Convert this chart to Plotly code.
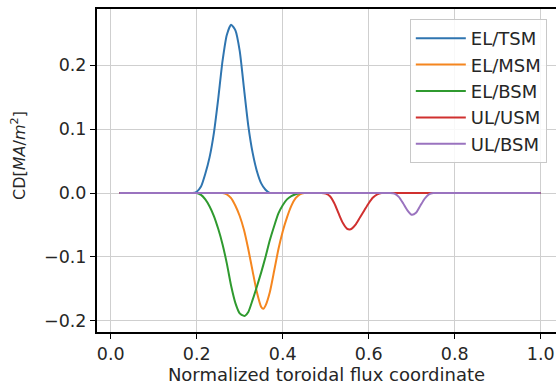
import plotly.graph_objects as go

# ---- data ----
x_tsm = [0.02, 0.18, 0.19, 0.20, 0.21, 0.22, 0.23, 0.24, 0.25, 0.26, 0.27, 0.28, 0.29, 0.30,
         0.31, 0.32, 0.33, 0.34, 0.35, 0.36, 0.37, 0.38, 1.0]
y_tsm = [0.0, 0.0, 0.0, 0.002, 0.010, 0.030, 0.056, 0.094, 0.147, 0.206, 0.247, 0.263, 0.254, 0.222,
         0.163, 0.105, 0.063, 0.034, 0.015, 0.005, 0.0, 0.0, 0.0]

x_msm = [0.02, 0.25, 0.26, 0.27, 0.28, 0.29, 0.30, 0.31, 0.32, 0.33, 0.34, 0.35, 0.355, 0.36,
         0.37, 0.38, 0.39, 0.40, 0.41, 0.42, 0.43, 0.44, 0.45, 0.46, 1.0]
y_msm = [0.0, 0.0, 0.0, -0.002, -0.008, -0.020, -0.036, -0.058, -0.088, -0.122, -0.155, -0.178, -0.181, -0.176,
         -0.155, -0.122, -0.088, -0.060, -0.038, -0.020, -0.008, -0.002, 0.0, 0.0, 0.0]

x_bsm = [0.02, 0.18, 0.19, 0.20, 0.21, 0.22, 0.23, 0.24, 0.25, 0.26, 0.27, 0.28, 0.29, 0.30, 0.31, 0.312,
         0.32, 0.33, 0.34, 0.35, 0.36, 0.37, 0.38, 0.39, 0.40, 0.41, 0.42, 0.43, 0.44, 0.45, 1.0]
y_bsm = [0.0, 0.0, 0.0, 0.0, -0.003, -0.010, -0.021, -0.036, -0.056, -0.080, -0.110, -0.145, -0.172, -0.188, -0.192, -0.192,
         -0.186, -0.167, -0.146, -0.124, -0.100, -0.074, -0.052, -0.032, -0.019, -0.010, -0.005, -0.002, 0.0, 0.0, 0.0]

x_usm = [0.02, 0.48, 0.49, 0.50, 0.51, 0.52, 0.53, 0.54, 0.55, 0.556, 0.56, 0.57, 0.58, 0.59, 0.60,
         0.61, 0.62, 0.63, 0.64, 1.0]
y_usm = [0.0, 0.0, 0.0, -0.001, -0.005, -0.016, -0.032, -0.047, -0.056, -0.057, -0.056, -0.049, -0.038, -0.027, -0.016,
         -0.007, -0.002, 0.0, 0.0, 0.0]

x_ubsm = [0.02, 0.64, 0.65, 0.66, 0.67, 0.68, 0.69, 0.70, 0.71, 0.72, 0.73, 0.74, 0.75, 0.76, 1.0]
y_ubsm = [0.0, 0.0, 0.0, -0.001, -0.006, -0.016, -0.027, -0.034, -0.031, -0.020, -0.009, -0.002, 0.0, 0.0, 0.0]

names = ["EL/TSM", "EL/MSM", "EL/BSM", "UL/USM", "UL/BSM"]
colors = ["#2f75b0", "#f5861f", "#2f9a2f", "#d0302f", "#9a73bf"]
series = [(x_tsm, y_tsm), (x_msm, y_msm), (x_bsm, y_bsm), (x_usm, y_usm), (x_ubsm, y_ubsm)]

x_ticks = [0.0, 0.2, 0.4, 0.6, 0.8, 1.0]
y_ticks = [-0.2, -0.1, 0.0, 0.1, 0.2]

fig = go.Figure()
for (xs, ys), n, c in zip(series, names, colors):
    fig.add_trace(go.Scatter(x=xs, y=ys, mode="lines", name=n,
                             line=dict(color=c, width=2, shape="spline", smoothing=0.6)))

font_color = "#262626"
axis_common = dict(showline=True, linecolor="black", linewidth=2, ticks="outside",
                   ticklen=5, tickwidth=1, tickcolor="black", showgrid=True,
                   gridcolor="#cfcfcf", gridwidth=1, zeroline=False,
                   tickfont=dict(family="DejaVu Sans", size=17.5, color=font_color))

fig.update_layout(
    width=556, height=385,
    margin=dict(l=97, r=0, t=9, b=53),
    plot_bgcolor="white", paper_bgcolor="white",
    showlegend=True,
    legend=dict(x=0.980, y=0.969, xanchor="right", yanchor="top",
                bgcolor="rgba(255,255,255,0.85)", bordercolor="#c8c8c8", borderwidth=1,
                font=dict(family="DejaVu Sans", size=18, color=font_color),
                itemwidth=50, tracegroupgap=0),
    xaxis=dict(range=[-0.0319, 1.0356], tickvals=x_ticks,
               ticktext=[f"{v:.1f}" for v in x_ticks], mirror=True,
               title=dict(text="Normalized toroidal flux coordinate", standoff=4,
                          font=dict(family="DejaVu Sans", size=18, color=font_color)),
               **axis_common),
    yaxis=dict(range=[-0.2172, 0.2875], tickvals=y_ticks,
               ticktext=[f"{v:.1f}".replace("-", "\u2212") for v in y_ticks], mirror=False,
               **axis_common),
    annotations=[dict(text="CD[<i>MA</i>/<i>m</i><sup>2</sup>]", textangle=-90,
                      xref="paper", yref="paper", x=-0.170, y=0.548,
                      xanchor="center", yanchor="middle", showarrow=False,
                      font=dict(family="DejaVu Sans", size=16, color=font_color))],
)

fig.write_html("out.html")
